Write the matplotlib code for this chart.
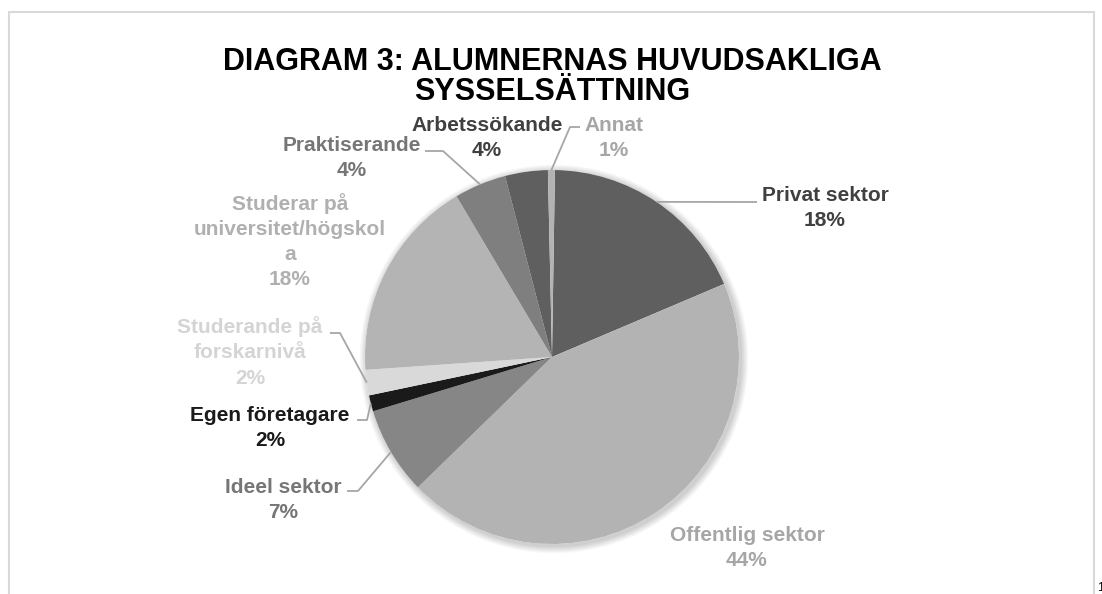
import numpy as np
import matplotlib.pyplot as plt
from matplotlib.patches import Circle, Rectangle

plt.rcParams['font.family'] = ['Liberation Sans', 'DejaVu Sans']

# Data (share of alumni, percent)
categories = ['Privat sektor', 'Offentlig sektor', 'Ideel sektor', 'Egen företagare',
              'Studerande på\nforskarnivå', 'Studerar på\nuniversitet/högskol\na',
              'Praktiserande', 'Arbetssökande', 'Annat']
values = [18.4, 44.2, 7.6, 1.4, 2.2, 17.6, 4.5, 3.7, 0.6]
pct_labels = ['18%', '44%', '7%', '2%', '2%', '18%', '4%', '4%', '1%']

slice_colors = ['#5f5f5f', '#b3b3b3', '#868686', '#1a1a1a', '#d9d9d9',
                '#b4b4b4', '#7f7f7f', '#5f5f5f', '#b3b3b3']
label_colors = ['#404040', '#a6a6a6', '#767676', '#1a1a1a', '#d4d4d4',
                '#b0b0b0', '#767676', '#404040', '#a6a6a6']

W, H = 1102, 594
fig = plt.figure(figsize=(W / 100, H / 100), dpi=100)
ax = fig.add_axes([0, 0, 1, 1])

cx, cy, r = 552, H - 357, 187

# soft shadow
for i in range(8):
    ax.add_patch(Circle((cx + 2, cy - 2), r + 1 + i * 0.9, color='black',
                        alpha=0.022, lw=0, zorder=0))
ax.add_patch(Circle((cx, cy), r, color='white', lw=0, zorder=0.5))

wedges, _ = ax.pie(values, colors=slice_colors, startangle=89.1, counterclock=False,
                   center=(cx, cy), radius=r, frame=True,
                   wedgeprops=dict(linewidth=0, zorder=1))

ax.set_xlim(0, W)
ax.set_ylim(0, H)
ax.set_aspect('equal')
ax.axis('off')

# label layout: block centre (x, y in px from top), leader (start x, elbow x, y) or None
layout = [
    (825, 208, (757, 757, 202)),
    (747, 548, None),
    (283, 500, (347, 358, 491)),
    (270, 428, (357, 367, 420)),
    (250, 352, (330, 340, 333)),
    (290, 241, None),
    (352, 158, (425, 443, 151)),
    (487, 138, None),
    (614, 138, (580, 570, 127)),
]

for w, cat, pct, col, (lx, ly, lead) in zip(wedges, categories, pct_labels, label_colors, layout):
    ax.text(lx, H - ly, cat + '\n' + pct, ha='center', va='center', fontsize=15,
            fontweight='bold', color=col, linespacing=1.42, zorder=3)
    if lead is not None:
        mid = np.deg2rad((w.theta1 + w.theta2) / 2)
        ex, ey = cx + r * np.cos(mid), cy + r * np.sin(mid)
        sx, bx, yy = lead
        ax.plot([sx, bx, ex], [H - yy, H - yy, ey], color='#a6a6a6', lw=1.3,
                zorder=2, solid_capstyle='butt')

ax.text(552, H - 77, 'DIAGRAM 3: ALUMNERNAS HUVUDSAKLIGA\nSYSSELSÄTTNING', ha='center',
        va='center', fontsize=22, fontweight='bold', color='black', linespacing=0.97)

# page frame
ax.add_patch(Rectangle((9, -10), 1085, H - 12 + 10, fill=False, edgecolor='#d9d9d9',
                       lw=1.5, zorder=0))
ax.text(1097, 6, '1', fontsize=9, color='black', ha='left', va='center')

fig.savefig('out.png', dpi=100)
